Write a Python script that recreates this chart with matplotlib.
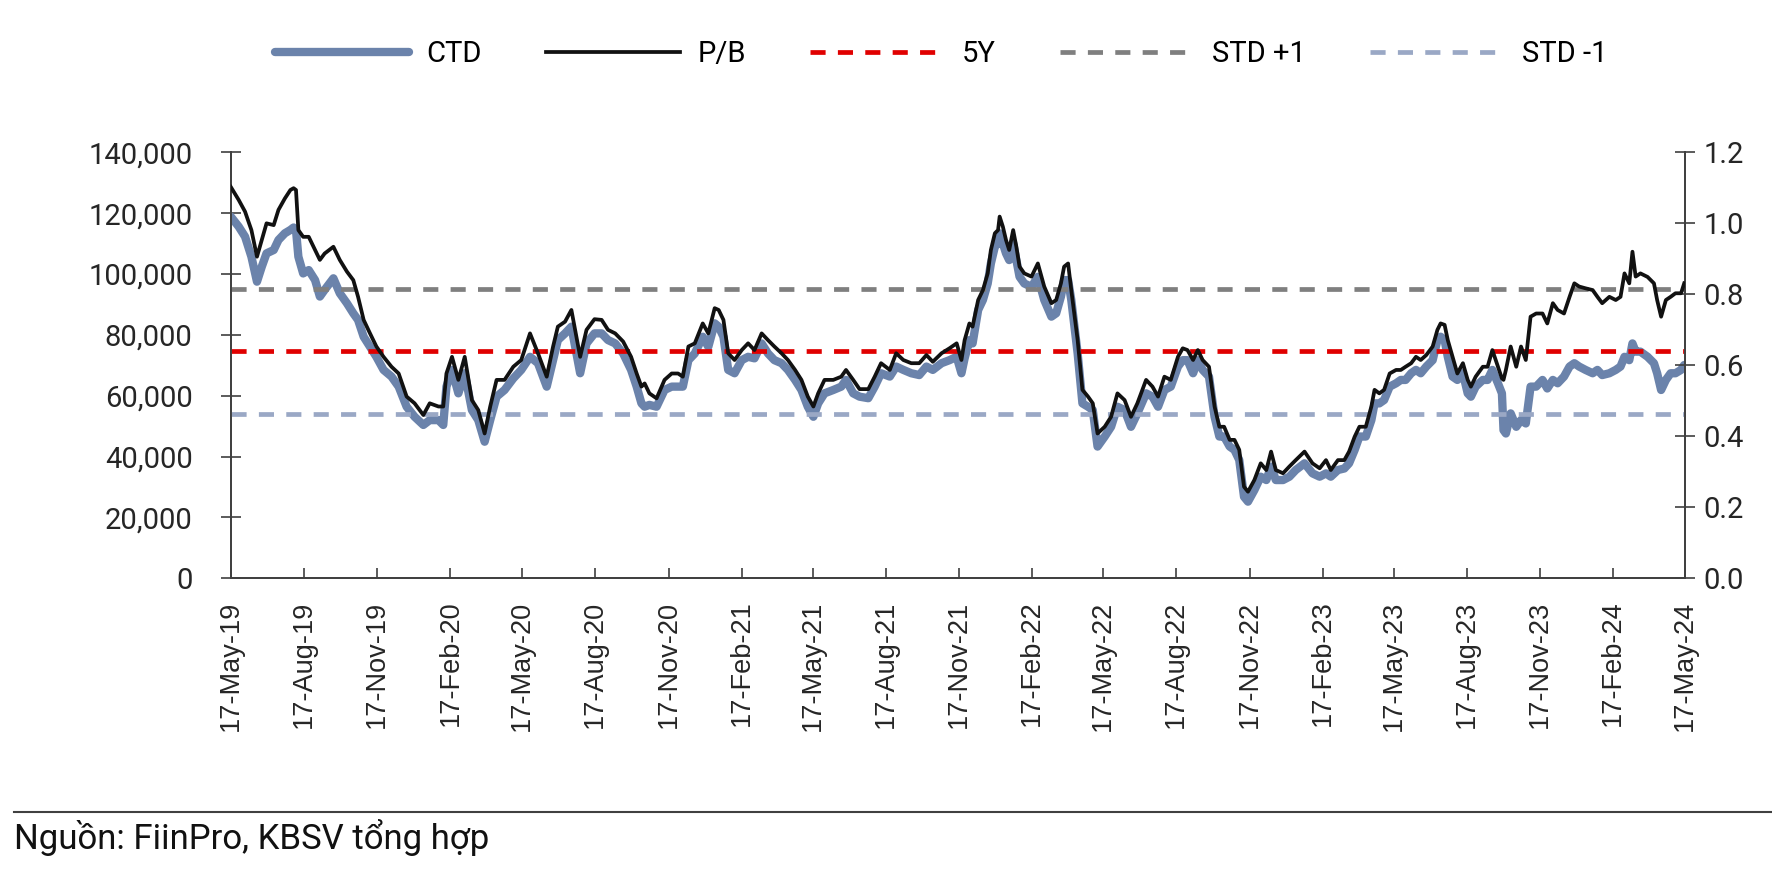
import pandas as pd
import matplotlib
matplotlib.use('Agg')
import matplotlib.pyplot as plt
import matplotlib.dates as mdates
from matplotlib import font_manager
from matplotlib.ticker import FuncFormatter

# ---------------- data ----------------
start = pd.Timestamp('2019-05-17')
end = pd.Timestamp('2024-05-17')

# days after 17-May-19
days = [0, 10, 18, 26, 33, 39, 45, 54, 60, 68, 75, 79, 82, 85, 91, 98, 106, 112, 118, 129,
        137, 146, 154, 160, 167, 175, 183, 192, 202, 211, 221, 231, 242, 250, 261, 267, 271, 278,
        286, 294, 303, 311, 319, 326, 334, 344, 355, 365, 376, 386, 397, 405, 411, 420, 428, 439,
        447, 457, 466, 474, 483, 493, 503, 510, 516, 520, 526, 535, 545, 554, 562, 568, 575, 583,
        593, 600, 608, 613, 619, 625, 633, 642, 650, 658, 667, 675, 683, 692, 700, 709, 717, 725,
        732, 738, 746, 757, 767, 773, 782, 790, 801, 809, 817, 828, 836, 845, 855, 865, 874, 882,
        893, 903, 912, 918, 922, 928, 932, 939, 945, 951, 955, 960, 964, 966, 970, 974, 978, 983,
        987, 991, 997, 1006, 1014, 1022, 1031, 1037, 1043, 1047, 1052, 1056, 1064, 1070, 1077,
        1083, 1089, 1098, 1106, 1114, 1123, 1131, 1139, 1150, 1158, 1165, 1173, 1181, 1190, 1196,
        1202, 1209, 1215, 1221, 1229, 1236, 1242, 1248, 1255, 1261, 1267, 1273, 1278, 1286, 1294,
        1301, 1307, 1313, 1322, 1330, 1338, 1349, 1359, 1368, 1376, 1382, 1391, 1399, 1405, 1412,
        1418, 1426, 1433, 1437, 1443, 1449, 1456, 1464, 1470, 1476, 1483, 1489, 1495, 1502, 1510,
        1516, 1520, 1525, 1529, 1535, 1541, 1548, 1554, 1558, 1564, 1573, 1579, 1585, 1592, 1597,
        1599, 1602, 1608, 1615, 1621, 1627, 1633, 1640, 1648, 1654, 1661, 1667, 1675, 1682, 1688,
        1694, 1702, 1711, 1717, 1723, 1732, 1740, 1746, 1751, 1757, 1761, 1765, 1771, 1780, 1788,
        1792, 1797, 1803, 1809, 1815, 1822, 1826]

ctd = [118900, 115600, 112300, 105700, 97500, 102400, 106800, 107900, 111200, 113400, 114500,
       115300, 114500, 105700, 100200, 101300, 98000, 92600, 94800, 98600, 93700, 90400, 87100,
       84900, 79400, 76100, 72800, 68500, 66300, 63000, 56400, 53100, 50400, 52000, 52000, 50400,
       63000, 68500, 60800, 67400, 55300, 52000, 44900, 52000, 59700, 61900, 65700, 68500, 72800,
       70700, 63000, 71700, 78300, 80500, 82700, 67400, 77200, 80500, 80500, 78300, 77200, 73900,
       68500, 63000, 57500, 56400, 57000, 56400, 61900, 63000, 63000, 63000, 71700, 73900, 79400,
       76100, 83800, 82700, 79400, 68500, 67400, 71700, 72800, 72300, 77200, 73900, 71700, 70700,
       68500, 65200, 61900, 56400, 53100, 57500, 60800, 61900, 63000, 65200, 60800, 59700, 59200,
       63000, 67400, 66300, 69600, 68500, 67400, 66800, 69600, 68500, 70700, 71700, 72800, 67400,
       72300, 78300, 77200, 88200, 91500, 96900, 103500, 109000, 110100, 113400, 110100, 106800,
       104600, 110100, 104600, 99100, 96900, 95800, 99100, 91500, 86000, 87100, 92600, 98000,
       98000, 91500, 73900, 57500, 56400, 55300, 43300, 46600, 49800, 56400, 55300, 49800, 54200,
       60800, 59700, 56400, 61900, 63000, 69600, 71700, 71700, 67400, 71700, 68500, 66300, 53100,
       46600, 46600, 43300, 42200, 38900, 26800, 25200, 29000, 33400, 32300, 36700, 32300, 32300,
       33400, 35600, 37800, 34500, 33400, 34500, 33400, 35600, 36100, 37800, 42200, 46600, 46600,
       52000, 57500, 57500, 58600, 63000, 64100, 65200, 65200, 67400, 68500, 67400, 69600, 71700,
       78300, 79400, 78300, 72800, 66300, 65200, 67400, 60800, 59700, 63000, 65200, 65200, 68500,
       64100, 60800, 48700, 47600, 54200, 49800, 52000, 50900, 63000, 63000, 65200, 62400, 65200,
       64100, 66300, 69600, 70700, 69600, 68500, 67400, 68500, 66800, 67400, 68500, 69600, 72800,
       71700, 77200, 74500, 74500, 72800, 70700, 67400, 61900, 65200, 67400, 67400, 68500, 70100]

pb = [1.103, 1.066, 1.033, 0.981, 0.906, 0.953, 1.000, 0.995, 1.038, 1.070, 1.094, 1.099, 1.094,
      0.981, 0.962, 0.962, 0.925, 0.897, 0.915, 0.934, 0.897, 0.864, 0.840, 0.793, 0.728, 0.690,
      0.653, 0.624, 0.596, 0.577, 0.512, 0.493, 0.460, 0.493, 0.484, 0.484, 0.577, 0.624, 0.559,
      0.624, 0.502, 0.474, 0.408, 0.484, 0.559, 0.559, 0.596, 0.615, 0.690, 0.634, 0.568, 0.653,
      0.709, 0.723, 0.756, 0.624, 0.700, 0.730, 0.728, 0.700, 0.690, 0.667, 0.624, 0.577, 0.540,
      0.549, 0.521, 0.507, 0.559, 0.577, 0.577, 0.568, 0.653, 0.662, 0.718, 0.690, 0.761, 0.756,
      0.728, 0.634, 0.615, 0.643, 0.662, 0.643, 0.690, 0.671, 0.653, 0.634, 0.615, 0.587, 0.559,
      0.512, 0.484, 0.521, 0.559, 0.559, 0.568, 0.587, 0.559, 0.533, 0.533, 0.568, 0.606, 0.587,
      0.634, 0.615, 0.606, 0.606, 0.629, 0.610, 0.634, 0.648, 0.662, 0.615, 0.671, 0.718, 0.709,
      0.784, 0.812, 0.859, 0.925, 0.972, 0.981, 1.019, 0.991, 0.953, 0.925, 0.981, 0.934, 0.878,
      0.859, 0.850, 0.887, 0.822, 0.775, 0.784, 0.831, 0.878, 0.887, 0.812, 0.671, 0.531, 0.512,
      0.493, 0.408, 0.427, 0.455, 0.521, 0.502, 0.455, 0.493, 0.559, 0.540, 0.512, 0.568, 0.559,
      0.624, 0.648, 0.643, 0.615, 0.643, 0.615, 0.596, 0.484, 0.427, 0.427, 0.390, 0.390, 0.362,
      0.258, 0.244, 0.277, 0.324, 0.305, 0.357, 0.305, 0.296, 0.315, 0.333, 0.357, 0.324, 0.310,
      0.333, 0.305, 0.333, 0.333, 0.357, 0.399, 0.427, 0.427, 0.484, 0.531, 0.521, 0.531, 0.577,
      0.587, 0.587, 0.596, 0.606, 0.624, 0.615, 0.629, 0.653, 0.700, 0.718, 0.714, 0.671, 0.624,
      0.577, 0.606, 0.559, 0.540, 0.568, 0.596, 0.596, 0.643, 0.596, 0.563, 0.559, 0.587, 0.653,
      0.596, 0.653, 0.615, 0.737, 0.746, 0.746, 0.718, 0.775, 0.756, 0.746, 0.793, 0.831, 0.822,
      0.817, 0.812, 0.793, 0.775, 0.793, 0.784, 0.793, 0.859, 0.831, 0.920, 0.850, 0.859, 0.849,
      0.831, 0.784, 0.737, 0.784, 0.793, 0.803, 0.803, 0.831]

pb_5y = 0.639
pb_std_plus = 0.815
pb_std_minus = 0.463

labels = ['CTD', 'P/B', '5Y', 'STD +1', 'STD -1']
source = 'Nguồn: FiinPro, KBSV tổng hợp'

# ---------------- fonts ----------------
installed = {f.name for f in font_manager.fontManager.ttflist}
narrow = 'Liberation Sans Narrow' if 'Liberation Sans Narrow' in installed else 'Roboto'
fam_narrow = [narrow, 'Noto Sans', 'DejaVu Sans']
fam_x = ['Liberation Sans', 'DejaVu Sans']

dates = start + pd.to_timedelta(days, unit='D')

# ---------------- figure ----------------
fig = plt.figure(figsize=(17.72, 8.74), dpi=100)
ax = fig.add_axes([0.1302, 0.3383, 0.8207, 0.4874])
ax2 = ax.twinx()

ax.plot(dates, ctd, color='#6B83AB', lw=6.0, solid_capstyle='round', label=labels[0], zorder=2)
ax2.plot(dates, pb, color='#111111', lw=2.7, label=labels[1], zorder=3)
ax2.plot(dates, [pb_5y] * len(dates), color='#E00000', lw=3.4, dashes=(3.2, 2.6), label=labels[2])
ax2.plot(dates, [pb_std_plus] * len(dates), color='#7F7F7F', lw=3.4, dashes=(3.2, 2.6), label=labels[3])
ax2.plot(dates, [pb_std_minus] * len(dates), color='#9AA8C5', lw=3.4, dashes=(3.2, 2.6), label=labels[4])

ax.set_xlim(start, end)
ax.set_ylim(0, 140000)
ax2.set_ylim(0, 1.2)
ax.set_yticks(range(0, 140001, 20000))
ax2.set_yticks([0, 0.2, 0.4, 0.6, 0.8, 1.0, 1.2])
ax.yaxis.set_major_formatter(FuncFormatter(lambda v, p: f'{v:,.0f}'))
ax2.yaxis.set_major_formatter(FuncFormatter(lambda v, p: f'{v:.1f}'))

ax.xaxis.set_major_locator(mdates.MonthLocator(bymonth=(2, 5, 8, 11), bymonthday=17))
ax.xaxis.set_major_formatter(mdates.DateFormatter('%d-%b-%y'))

spine_col = '#404040'
for a in (ax, ax2):
    a.spines['top'].set_visible(False)
    for s in ('left', 'right', 'bottom'):
        a.spines[s].set_color(spine_col)
        a.spines[s].set_linewidth(1.3)

ax.tick_params(axis='y', direction='inout', length=15, width=1.2, color=spine_col,
               pad=20, labelsize=21, labelcolor='#262626')
ax2.tick_params(axis='y', direction='inout', length=15, width=1.2, color=spine_col,
                pad=6, labelsize=21, labelcolor='#262626')
ax.tick_params(axis='x', direction='in', length=7, width=1.2, color=spine_col,
               pad=16, labelsize=19.5, labelcolor='#262626', labelrotation=90)
for t in ax.get_yticklabels() + ax2.get_yticklabels():
    t.set_family(fam_narrow)
for t in ax.get_xticklabels():
    t.set_family(fam_x)

# legend across the top
h1, l1 = ax.get_legend_handles_labels()
h2, l2 = ax2.get_legend_handles_labels()
fig.legend(h1 + h2, l1 + l2, loc='center', bbox_to_anchor=(0.531, 0.938), ncol=5,
           frameon=False, handlelength=4.6, handletextpad=0.6, columnspacing=2.2,
           prop={'family': fam_narrow, 'size': 21})

# source note with rule above
fig.add_artist(plt.Line2D([0.008, 1.0], [0.071, 0.071], transform=fig.transFigure,
                          color='#404040', lw=1.5))
fig.text(0.008, 0.042, source, family=fam_narrow, fontsize=25, color='#111111', va='center', ha='left')

fig.savefig('out.png', dpi=100)
